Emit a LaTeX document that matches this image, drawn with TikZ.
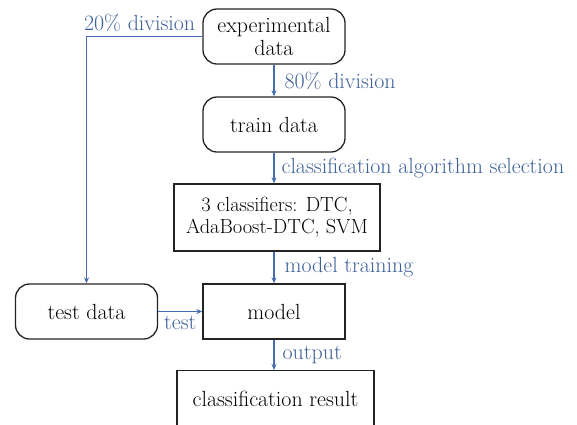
\documentclass[tikz,border=0pt]{standalone}
\usetikzlibrary{arrows.meta}
\definecolor{flowblue}{RGB}{70,110,175}
\definecolor{labelblue}{RGB}{62,96,152}
\definecolor{boxline}{RGB}{35,35,35}
\tikzset{
  base/.style={draw=boxline, line width=1.3bp, text=black, align=center,
    inner sep=0pt, font=\fontsize{22}{23}\selectfont},
  roundbox/.style={base, rounded corners=14bp},
  squarebox/.style={base},
  flow/.style={draw=flowblue, line width=1.2bp,
    -{Stealth[length=6bp,width=5bp]}},
  lbl/.style={text=labelblue, inner sep=0pt, font=\fontsize{22}{23}\selectfont}
}
\begin{document}
\begin{tikzpicture}[x=1bp,y=-1bp]
\useasboundingbox (0,0) rectangle (577,424);
% boxes
\node[roundbox, minimum width=142bp, minimum height=55bp] (exp) at (274,36.5) {experimental\\data};
\node[roundbox, minimum width=142bp, minimum height=55bp] (train) at (274,124.5) {train data};
\node[squarebox, minimum width=206bp, minimum height=67bp, font=\fontsize{20.5}{22}\selectfont] (cls) at (277,217.5) {3 classifiers: DTC,\\AdaBoost-DTC, SVM};
\node[squarebox, minimum width=142bp, minimum height=55bp] (model) at (274,311.5) {model};
\node[roundbox, minimum width=142bp, minimum height=55bp] (test) at (86.5,311.5) {test data};
\node[squarebox, minimum width=197bp, minimum height=70bp, anchor=north] (result) at (275.5,370) {\raisebox{14bp}{classification result}};
% connectors
\draw[flow] (exp.south) -- node[lbl, right=10bp] {80\% division} (train.north);
\draw[flow] (train.south) -- node[lbl, right=7bp] {classification algorithm selection} (train.south |- cls.north);
\draw[flow] (train.south |- cls.south) -- node[lbl, right=10bp] {model training} (model.north);
\draw[flow] (model.south) -- node[lbl, right=8bp] {output} (model.south |- result.north);
\draw[flow] (test.east) -- node[lbl, below=4bp] {test} (model.west);
\coordinate (corner) at (test.north |- exp.west);
\draw[flow] (exp.west) -- (corner) -- (test.north);
% label above the left branch (canvas y points up, so a positive yshift lifts it)
\node[lbl, anchor=base east] (split) at ([xshift=-7bp,yshift=6bp]exp.west) {20\% division};
\end{tikzpicture}
\end{document}
